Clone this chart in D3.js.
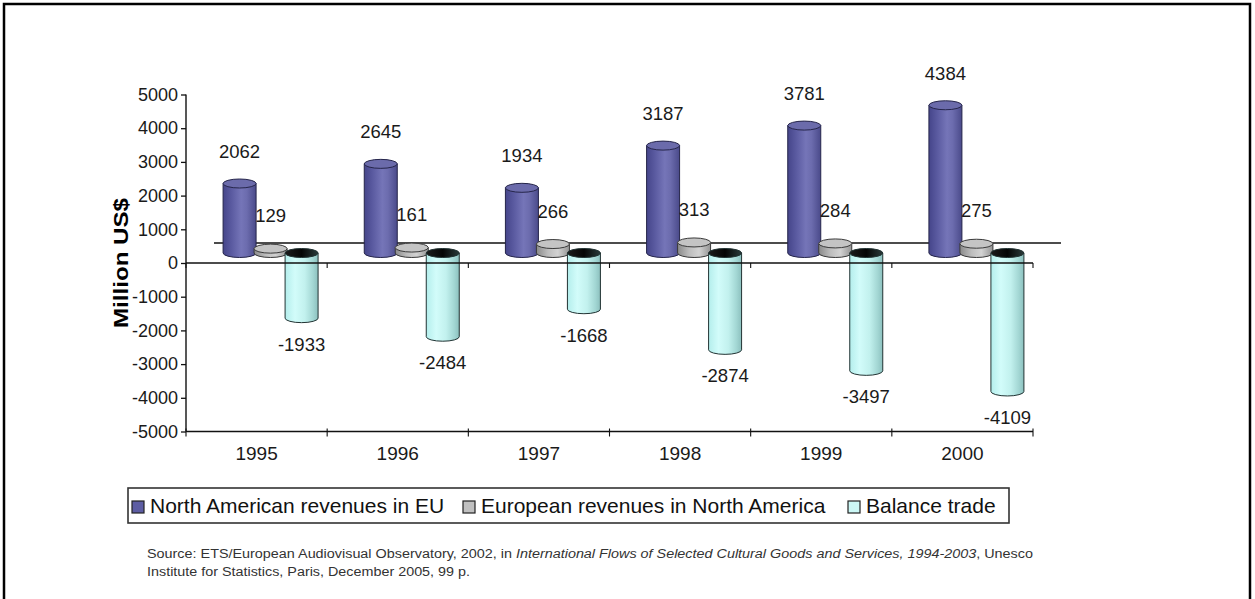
<!DOCTYPE html>
<html>
<head>
<meta charset="utf-8">
<script src="https://cdn.jsdelivr.net/npm/d3@7"></script>
<style>
  html, body { margin: 0; padding: 0; background: #fff; }
  svg { display: block; font-family: "Liberation Sans", Arial, sans-serif; }
</style>
</head>
<body>
<svg id="chart" width="1255" height="599"></svg>
<script>
// Revenue flows between North America and the EU (million US$)
const years = ["1995", "1996", "1997", "1998", "1999", "2000"];
const naRevenuesInEU = [2062, 2645, 1934, 3187, 3781, 4384];
const euRevenuesInNA = [129, 161, 266, 313, 284, 275];
const balanceTrade = [-1933, -2484, -1668, -2874, -3497, -4109];
const yTickValues = [5000, 4000, 3000, 2000, 1000, 0, -1000, -2000, -3000, -4000, -5000];
const seriesNames = ["North American revenues in EU", "European revenues in North America", "Balance trade"];
const seriesKeys = ["na", "eu", "bal"];

// plain hyphen for negatives
const fmt = v => String(v);

const svg = d3.select("#chart");
svg.append("rect").attr("width", 1255).attr("height", 599).attr("fill", "#fff");

// outer frame
const frame = svg.append("g").attr("stroke", "#000").attr("stroke-width", 2.5).attr("fill", "none");
frame.append("path").attr("d", "M4,605 L4,4 L1250,4 L1250,605");

// scales
const x = d3.scaleBand().domain(years).range([186, 1033]).padding(0);
const y = d3.scaleLinear().domain([-5000, 5000]).range([431.5, 94.5]);
const inner = d3.scaleBand().domain(seriesKeys).range([-46.5, 46.5]);

// oblique depth: full depth shift of the floor, cylinders sit at half depth
const depthDx = 28, depthDy = -20;
const cylDx = depthDx / 2, cylDy = depthDy / 2;
const yc = v => y(v) + cylDy;

// gradients
const defs = svg.append("defs");
function hGrad(id, stops) {
  const g = defs.append("linearGradient").attr("id", id)
    .attr("x1", "0%").attr("x2", "100%").attr("y1", "0%").attr("y2", "0%");
  stops.forEach(([o, c]) => g.append("stop").attr("offset", o).attr("stop-color", c));
}
hGrad("gNa", [[0, "#45458a"], [0.25, "#5a5aa0"], [0.55, "#7575b8"], [0.72, "#6c6cae"], [1, "#4a4a8a"]]);
hGrad("gEu", [[0, "#8a8a8a"], [0.35, "#bdbdbd"], [0.65, "#d2d2d2"], [1, "#949494"]]);
hGrad("gBal", [[0, "#b4eeec"], [0.3, "#d2fcfa"], [0.6, "#c2f1ee"], [0.85, "#a2d6d3"], [1, "#8cc0be"]]);
hGrad("gBalTop", [[0, "#1c1c1c"], [0.5, "#050505"], [1, "#2a3a3a"]]);

const styles = {
  na:  { body: "url(#gNa)",  top: "#6b6bab", stroke: "#25254a" },
  eu:  { body: "url(#gEu)",  top: "#c4c4c4", stroke: "#3a3a3a" },
  bal: { body: "url(#gBal)", top: "url(#gBalTop)", stroke: "#223333" }
};
const swatch = { na: "#5d5da3", eu: "#c0c0c0", bal: "#ccf8f6" };

// floor back edge
svg.append("line")
  .attr("x1", 186 + depthDx).attr("x2", 1033 + depthDx)
  .attr("y1", y(0) + depthDy).attr("y2", y(0) + depthDy)
  .attr("stroke", "#111").attr("stroke-width", 1.3);

// build records
const records = [];
years.forEach((yr, i) => {
  records.push({ year: yr, key: "na", value: naRevenuesInEU[i] });
  records.push({ year: yr, key: "eu", value: euRevenuesInNA[i] });
  records.push({ year: yr, key: "bal", value: balanceTrade[i] });
});

const rx = 16.5, ry = 4.5;
const cx = d => x(d.year) + x.bandwidth() / 2 + cylDx + inner(d.key) + inner.bandwidth() / 2;

const cyl = svg.append("g").selectAll("g").data(records).join("g");
cyl.each(function (d) {
  const g = d3.select(this);
  const c = cx(d), s = styles[d.key];
  const y0 = yc(0), y1 = yc(d.value);
  const top = Math.min(y0, y1), bot = Math.max(y0, y1);
  g.append("path")
    .attr("d", `M${c - rx},${top} L${c - rx},${bot} A${rx},${ry} 0 0 0 ${c + rx},${bot} L${c + rx},${top} Z`)
    .attr("fill", s.body).attr("stroke", s.stroke).attr("stroke-width", 1);
  g.append("ellipse")
    .attr("cx", c).attr("cy", top).attr("rx", rx).attr("ry", ry)
    .attr("fill", s.top).attr("stroke", s.stroke).attr("stroke-width", 1);
});

// front zero line and bottom axis
const axisG = svg.append("g").attr("stroke", "#111").attr("stroke-width", 1.4);
axisG.append("line").attr("x1", 186).attr("x2", 1033).attr("y1", y(0)).attr("y2", y(0));
axisG.append("line").attr("x1", 186).attr("x2", 1033).attr("y1", y(-5000)).attr("y2", y(-5000));
axisG.append("line").attr("x1", 186).attr("x2", 186).attr("y1", y(5000)).attr("y2", y(-5000));
const bounds = years.map(yr => x(yr) + x.bandwidth()).concat([186]);
bounds.forEach(b => {
  axisG.append("line").attr("x1", b).attr("x2", b).attr("y1", y(0)).attr("y2", y(0) + 5).attr("stroke-width", 1.1);
  axisG.append("line").attr("x1", b).attr("x2", b).attr("y1", y(-5000) - 3).attr("y2", y(-5000) + 5).attr("stroke-width", 1.1);
});

// y axis ticks and labels
const yAxis = svg.append("g").attr("transform", "translate(186,0)")
  .call(d3.axisLeft(y).tickValues(yTickValues).tickSize(5).tickPadding(3).tickFormat(fmt));
yAxis.select(".domain").remove();
yAxis.selectAll(".tick line").attr("stroke", "#111").attr("stroke-width", 1.3);
yAxis.selectAll(".tick text").attr("font-size", 18).attr("fill", "#1a1a1a")
  .attr("font-family", "'Liberation Sans', Arial, sans-serif");

// category labels
svg.append("g").selectAll("text").data(years).join("text")
  .attr("x", d => x(d) + x.bandwidth() / 2).attr("y", 460)
  .attr("text-anchor", "middle").attr("font-size", 19).attr("fill", "#1a1a1a")
  .text(d => d);

// y title
svg.append("text")
  .attr("transform", "translate(128,263) rotate(-90)")
  .attr("text-anchor", "middle").attr("font-size", 20).attr("font-weight", "bold")
  .attr("textLength", 130).attr("lengthAdjust", "spacingAndGlyphs")
  .attr("fill", "#000").text("Million US$");

// data labels
const labelOffset = { na: -32, eu: -33, bal: 26 };
svg.append("g").selectAll("text").data(records).join("text")
  .attr("x", d => cx(d)).attr("y", d => yc(d.value) + labelOffset[d.key])
  .attr("dy", "0.35em").attr("text-anchor", "middle")
  .attr("font-size", 18.5).attr("fill", "#1a1a1a")
  .text(d => fmt(d.value));

// legend
const legend = svg.append("g");
legend.append("rect").attr("x", 128).attr("y", 488).attr("width", 881).attr("height", 35)
  .attr("fill", "#fff").attr("stroke", "#333").attr("stroke-width", 1.6);
const legendX = [132, 463, 848];
seriesKeys.forEach((k, i) => {
  legend.append("rect").attr("x", legendX[i]).attr("y", 501).attr("width", 12).attr("height", 12)
    .attr("fill", swatch[k]).attr("stroke", "#222").attr("stroke-width", 1.2);
  legend.append("text").attr("x", legendX[i] + 18).attr("y", 513)
    .attr("font-size", 21).attr("fill", "#111").text(seriesNames[i]);
});

// source note
const src = svg.append("g").attr("font-size", 12.5).attr("fill", "#333");
const l1 = src.append("text").attr("x", 147).attr("y", 558)
  .attr("textLength", 886).attr("lengthAdjust", "spacingAndGlyphs");
l1.append("tspan").text("Source: ETS/European Audiovisual Observatory, 2002, in ");
l1.append("tspan").attr("font-style", "italic").text("International Flows of Selected Cultural Goods and Services, 1994-2003");
l1.append("tspan").text(", Unesco");
src.append("text").attr("x", 147).attr("y", 576)
  .attr("textLength", 323).attr("lengthAdjust", "spacingAndGlyphs")
  .text("Institute for Statistics, Paris, December 2005, 99 p.");
</script>
</body>
</html>
